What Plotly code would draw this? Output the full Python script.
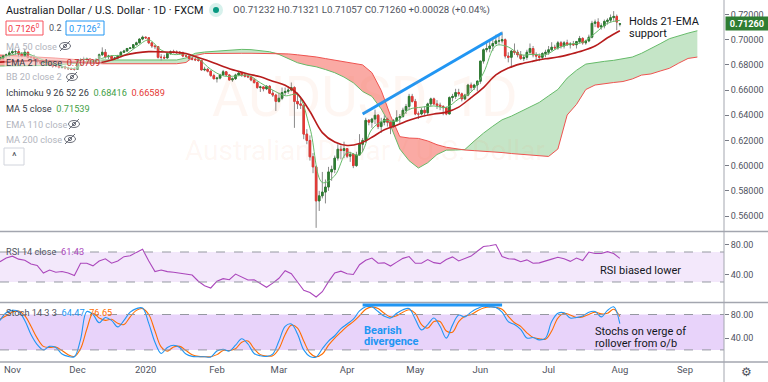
import plotly.graph_objects as go
import pandas as pd

# ---------------- data ----------------
bar_dates = pd.bdate_range("2019-10-28", "2020-08-03")          # 201 daily bars
axis_dates = pd.bdate_range("2019-10-28", periods=240)           # incl. future (cloud projection)

opens = [
    0.6850, 0.6857, 0.6870, 0.6880,
    0.6895, 0.6905, 0.6905, 0.6885, 0.6870, 0.6900, 0.6860, 0.6860, 0.6850, 0.6825, 0.6815,
    0.6820, 0.6830, 0.6800, 0.6790, 0.6790, 0.6780, 0.6785, 0.6775, 0.6770, 0.6765,
    0.6765, 0.6835, 0.6840, 0.6845, 0.6850, 0.6820, 0.6830, 0.6845, 0.6880, 0.6900, 0.6865,
    0.6870, 0.6850, 0.6855, 0.6870, 0.6900, 0.6910, 0.6930, 0.6935, 0.6960, 0.6975, 0.7005,
    0.7020, 0.7015, 0.6975, 0.6950, 0.6945, 0.6860, 0.6860, 0.6855, 0.6890, 0.6905, 0.6900,
    0.6900, 0.6895, 0.6870, 0.6870, 0.6850, 0.6845, 0.6840, 0.6835, 0.6760, 0.6765, 0.6750, 0.6715,
    0.6690, 0.6695, 0.6720, 0.6745, 0.6720, 0.6680, 0.6690, 0.6720, 0.6735, 0.6720,
    0.6710, 0.6705, 0.6680, 0.6660, 0.6620, 0.6625, 0.6610, 0.6630, 0.6575, 0.6560,
    0.6510, 0.6535, 0.6580, 0.6590, 0.6600, 0.6620, 0.6510, 0.6490, 0.6480, 0.6250, 0.6200,
    0.6070, 0.5990, 0.5720, 0.5760, 0.5790, 0.5830, 0.5950, 0.5970, 0.6060, 0.6130, 0.6120,
    0.6135, 0.6075, 0.6090, 0.6000, 0.6085, 0.6170, 0.6200, 0.6360, 0.6345, 0.6370, 0.6400,
    0.6310, 0.6345, 0.6370, 0.6345, 0.6310, 0.6355, 0.6380, 0.6390, 0.6440, 0.6470, 0.6550,
    0.6510, 0.6410, 0.6410, 0.6440, 0.6420, 0.6490, 0.6530, 0.6490, 0.6480, 0.6470, 0.6460,
    0.6410, 0.6540, 0.6550, 0.6580, 0.6570, 0.6530, 0.6560, 0.6640, 0.6620, 0.6640,
    0.6670, 0.6830, 0.6920, 0.6930, 0.6950, 0.6970, 0.6990, 0.6990, 0.7000, 0.6870, 0.6860,
    0.6910, 0.6900, 0.6880, 0.6850, 0.6860, 0.6900, 0.6930, 0.6880, 0.6870, 0.6860, 0.6890,
    0.6900, 0.6920, 0.6940, 0.6935, 0.6975, 0.6950, 0.6975, 0.6960, 0.6965, 0.6960, 0.6985,
    0.7010, 0.6975, 0.6990, 0.7020, 0.7130, 0.7140, 0.7100, 0.7110, 0.7145, 0.7155, 0.7175, 0.7185,
    0.71232,
]
highs = [
    0.6868, 0.6880, 0.6890, 0.6912,
    0.6930, 0.6920, 0.6925, 0.6900, 0.6929, 0.6905, 0.6875, 0.6880, 0.6860, 0.6835, 0.6830,
    0.6845, 0.6840, 0.6810, 0.6815, 0.6800, 0.6795, 0.6795, 0.6785, 0.6780, 0.6780,
    0.6845, 0.6855, 0.6865, 0.6860, 0.6855, 0.6840, 0.6850, 0.6890, 0.6939, 0.6925, 0.6880,
    0.6875, 0.6865, 0.6880, 0.6910, 0.6920, 0.6935, 0.6940, 0.6965, 0.6985, 0.7010, 0.7032,
    0.7025, 0.7020, 0.6980, 0.6960, 0.6950, 0.6885, 0.6880, 0.6900, 0.6915, 0.6920, 0.6915,
    0.6910, 0.6905, 0.6880, 0.6875, 0.6865, 0.6855, 0.6860, 0.6840, 0.6785, 0.6775, 0.6755, 0.6730,
    0.6705, 0.6730, 0.6760, 0.6750, 0.6725, 0.6700, 0.6730, 0.6750, 0.6740, 0.6730,
    0.6720, 0.6710, 0.6695, 0.6670, 0.6635, 0.6630, 0.6640, 0.6640, 0.6600, 0.6570,
    0.6580, 0.6620, 0.6620, 0.6630, 0.6660, 0.6630, 0.6580, 0.6550, 0.6490, 0.6290, 0.6240,
    0.6100, 0.6000, 0.5800, 0.5950, 0.5890, 0.5990, 0.6000, 0.6080, 0.6170, 0.6160, 0.6190,
    0.6140, 0.6110, 0.6100, 0.6110, 0.6250, 0.6220, 0.6380, 0.6370, 0.6380, 0.6445, 0.6410,
    0.6380, 0.6400, 0.6380, 0.6350, 0.6370, 0.6440, 0.6410, 0.6460, 0.6490, 0.6570, 0.6570,
    0.6530, 0.6430, 0.6460, 0.6470, 0.6500, 0.6540, 0.6540, 0.6520, 0.6500, 0.6480, 0.6470,
    0.6550, 0.6570, 0.6610, 0.6610, 0.6580, 0.6570, 0.6650, 0.6660, 0.6650, 0.6680,
    0.6830, 0.6930, 0.6980, 0.6990, 0.7010, 0.7040, 0.7030, 0.7064, 0.7010, 0.6900, 0.6920,
    0.6970, 0.6920, 0.6910, 0.6880, 0.6920, 0.6970, 0.6950, 0.6900, 0.6890, 0.6900, 0.6920,
    0.6950, 0.6980, 0.6960, 0.6990, 0.6990, 0.6990, 0.7000, 0.6980, 0.6990, 0.6990, 0.7030,
    0.7020, 0.7000, 0.7040, 0.7150, 0.7160, 0.7170, 0.7130, 0.7160, 0.7170, 0.7200, 0.7227, 0.7200,
    0.71321,
]
lows = [
    0.6838, 0.6845, 0.6852, 0.6862,
    0.6885, 0.6880, 0.6860, 0.6860, 0.6865, 0.6850, 0.6845, 0.6840, 0.6812, 0.6808, 0.6805,
    0.6815, 0.6790, 0.6775, 0.6780, 0.6770, 0.6770, 0.6765, 0.6760, 0.6760, 0.6755,
    0.6760, 0.6825, 0.6830, 0.6830, 0.6810, 0.6815, 0.6820, 0.6840, 0.6870, 0.6850, 0.6845,
    0.6840, 0.6840, 0.6845, 0.6860, 0.6895, 0.6905, 0.6925, 0.6930, 0.6955, 0.6970, 0.6995,
    0.7005, 0.6965, 0.6935, 0.6925, 0.6850, 0.6835, 0.6845, 0.6850, 0.6880, 0.6890, 0.6885,
    0.6880, 0.6860, 0.6860, 0.6840, 0.6835, 0.6830, 0.6825, 0.6755, 0.6750, 0.6740, 0.6705, 0.6685,
    0.6660, 0.6685, 0.6715, 0.6710, 0.6675, 0.6665, 0.6680, 0.6715, 0.6705, 0.6700,
    0.6695, 0.6670, 0.6650, 0.6610, 0.6585, 0.6590, 0.6600, 0.6570, 0.6545, 0.6434,
    0.6500, 0.6520, 0.6560, 0.6570, 0.6590, 0.6300, 0.6450, 0.6450, 0.6210, 0.6170, 0.6040,
    0.5940, 0.5506, 0.5640, 0.5740, 0.5700, 0.5800, 0.5880, 0.5940, 0.6040, 0.6050, 0.6060,
    0.6060, 0.6030, 0.5980, 0.5990, 0.6080, 0.6110, 0.6180, 0.6320, 0.6300, 0.6330, 0.6290,
    0.6260, 0.6320, 0.6310, 0.6250, 0.6300, 0.6350, 0.6340, 0.6380, 0.6410, 0.6440, 0.6500,
    0.6400, 0.6370, 0.6400, 0.6400, 0.6400, 0.6470, 0.6480, 0.6450, 0.6440, 0.6400, 0.6400,
    0.6410, 0.6510, 0.6530, 0.6550, 0.6510, 0.6520, 0.6550, 0.6590, 0.6600, 0.6590,
    0.6650, 0.6810, 0.6900, 0.6900, 0.6910, 0.6960, 0.6960, 0.6970, 0.6850, 0.6820, 0.6777,
    0.6880, 0.6860, 0.6840, 0.6830, 0.6840, 0.6880, 0.6860, 0.6830, 0.6830, 0.6840, 0.6860,
    0.6880, 0.6910, 0.6920, 0.6920, 0.6930, 0.6930, 0.6950, 0.6930, 0.6950, 0.6930, 0.6970,
    0.6960, 0.6960, 0.6980, 0.7010, 0.7100, 0.7090, 0.7080, 0.7090, 0.7120, 0.7140, 0.7150, 0.7075,
    0.71057,
]
closes = [
    0.6857, 0.6870, 0.6880, 0.6895,
    0.6905, 0.6905, 0.6885, 0.6870, 0.6900, 0.6860, 0.6860, 0.6850, 0.6825, 0.6815, 0.6820,
    0.6830, 0.6800, 0.6790, 0.6790, 0.6780, 0.6785, 0.6775, 0.6770, 0.6765, 0.6765,
    0.6835, 0.6840, 0.6845, 0.6850, 0.6820, 0.6830, 0.6845, 0.6880, 0.6900, 0.6865, 0.6870,
    0.6850, 0.6855, 0.6870, 0.6900, 0.6910, 0.6930, 0.6935, 0.6960, 0.6975, 0.7005, 0.7020,
    0.7015, 0.6975, 0.6950, 0.6945, 0.6860, 0.6860, 0.6855, 0.6890, 0.6905, 0.6900, 0.6900,
    0.6895, 0.6870, 0.6870, 0.6850, 0.6845, 0.6840, 0.6835, 0.6760, 0.6765, 0.6750, 0.6715, 0.6690,
    0.6695, 0.6720, 0.6745, 0.6720, 0.6680, 0.6690, 0.6720, 0.6735, 0.6720, 0.6710,
    0.6705, 0.6680, 0.6660, 0.6620, 0.6625, 0.6610, 0.6630, 0.6575, 0.6560, 0.6510,
    0.6535, 0.6580, 0.6590, 0.6600, 0.6620, 0.6510, 0.6490, 0.6480, 0.6250, 0.6200, 0.6070,
    0.5990, 0.5720, 0.5760, 0.5790, 0.5830, 0.5950, 0.5970, 0.6060, 0.6130, 0.6120, 0.6135,
    0.6075, 0.6090, 0.6000, 0.6085, 0.6170, 0.6200, 0.6360, 0.6345, 0.6370, 0.6400, 0.6310,
    0.6345, 0.6370, 0.6345, 0.6310, 0.6355, 0.6380, 0.6390, 0.6440, 0.6470, 0.6550, 0.6510,
    0.6410, 0.6410, 0.6440, 0.6420, 0.6490, 0.6530, 0.6490, 0.6480, 0.6470, 0.6460, 0.6410,
    0.6540, 0.6550, 0.6580, 0.6570, 0.6530, 0.6560, 0.6640, 0.6620, 0.6640, 0.6670,
    0.6830, 0.6920, 0.6930, 0.6950, 0.6970, 0.6990, 0.6990, 0.7000, 0.6870, 0.6860, 0.6910,
    0.6900, 0.6880, 0.6850, 0.6860, 0.6900, 0.6930, 0.6880, 0.6870, 0.6860, 0.6890, 0.6900,
    0.6920, 0.6940, 0.6935, 0.6975, 0.6950, 0.6975, 0.6960, 0.6965, 0.6960, 0.6985, 0.7010,
    0.6975, 0.6990, 0.7020, 0.7130, 0.7140, 0.7100, 0.7110, 0.7145, 0.7155, 0.7175, 0.7185, 0.7140,
    0.71260,
]

# EMA 21 and MA 5 every 4 bars
ema21 = [
    0.6822, 0.6828, 0.6832, 0.6833, 0.6830, 0.6826, 0.6820, 0.6815, 0.6817, 0.6838,
    0.6875, 0.6895, 0.6905, 0.6903, 0.6900, 0.6890, 0.6858, 0.6825, 0.6788, 0.6755,
    0.6728, 0.6705, 0.6670, 0.6638, 0.6570, 0.6430, 0.6262, 0.6187, 0.6160, 0.6175,
    0.6225, 0.6285, 0.6320, 0.6360, 0.6390, 0.6410, 0.6425, 0.6465, 0.6540, 0.6620,
    0.6720, 0.6775, 0.6808, 0.6830, 0.6848, 0.6862, 0.6885, 0.6912, 0.6950, 0.7015,
    0.7071,
]
ma5 = [
    0.6850, 0.6881, 0.6893, 0.6859, 0.6818, 0.6789, 0.6772, 0.6827, 0.6845, 0.6873,
    0.6877, 0.6942, 0.6998, 0.6918, 0.6882, 0.6887, 0.6848, 0.6765, 0.6713, 0.6711,
    0.6718, 0.6658, 0.6600, 0.6555, 0.6562, 0.6298, 0.5866, 0.5920, 0.6104, 0.6084,
    0.6289, 0.6359, 0.6352, 0.6446, 0.6464, 0.6474, 0.6462, 0.6530, 0.6584, 0.6736,
    0.6952, 0.6942, 0.6880, 0.6884, 0.6880, 0.6934, 0.6965, 0.6979, 0.7051, 0.7130,
    0.7154,
]
line_step = 4

# Ichimoku leading spans (plotted 26 bars ahead), read every 3 bars
span_a = [
    0.6791, 0.6791, 0.6791, 0.6791, 0.6791, 0.6795, 0.6800, 0.6805, 0.6811, 0.6821,
    0.6831, 0.6839, 0.6839, 0.6839, 0.6839, 0.6839, 0.6839, 0.6839, 0.6839, 0.6839,
    0.6855, 0.6892, 0.6902, 0.6907, 0.6910, 0.6916, 0.6923, 0.6921, 0.6915, 0.6904,
    0.6883, 0.6847, 0.6817, 0.6798, 0.6785, 0.6763, 0.6738, 0.6703, 0.6658, 0.6589,
    0.6550, 0.6450, 0.6318, 0.6132, 0.6039, 0.5981, 0.6023, 0.6088, 0.6123, 0.6124,
    0.6128, 0.6195, 0.6258, 0.6313, 0.6364, 0.6393, 0.6430, 0.6469, 0.6502, 0.6554,
    0.6605, 0.6695, 0.6757, 0.6806, 0.6820, 0.6828, 0.6836, 0.6849, 0.6862, 0.6892,
    0.6928, 0.6968, 0.7008, 0.7032, 0.7052, 0.7071,
]
span_b = [
    0.6878, 0.6875, 0.6871, 0.6867, 0.6864, 0.6859, 0.6854, 0.6848, 0.6843, 0.6827,
    0.6811, 0.6809, 0.6809, 0.6809, 0.6809, 0.6809, 0.6809, 0.6809, 0.6809, 0.6809,
    0.6819, 0.6874, 0.6890, 0.6892, 0.6892, 0.6892, 0.6892, 0.6892, 0.6892, 0.6892,
    0.6892, 0.6887, 0.6880, 0.6873, 0.6863, 0.6850, 0.6837, 0.6829, 0.6817, 0.6800,
    0.6738, 0.6597, 0.6397, 0.6230, 0.6219, 0.6216, 0.6196, 0.6166, 0.6146, 0.6134,
    0.6124, 0.6119, 0.6115, 0.6111, 0.6104, 0.6096, 0.6089, 0.6083, 0.6077, 0.6073,
    0.6132, 0.6402, 0.6486, 0.6604, 0.6640, 0.6652, 0.6660, 0.6668, 0.6688, 0.6719,
    0.6728, 0.6751, 0.6773, 0.6814, 0.6851, 0.6862,
]
span_step = 3

# RSI 14 and Stoch 14 3 3, read every 2 bars
rsi = [
    57, 62, 64.5, 60.5, 59, 54, 52, 42, 46, 43,
    44, 42, 38.5, 55, 55, 51.5, 58, 61, 55, 58,
    63.8, 65, 69.5, 73.6, 58, 43.8, 46, 43.8, 43, 42,
    41, 39.3, 31, 25, 22, 31, 34.5, 33, 40.5, 37,
    32.7, 33, 28.2, 23, 28.5, 35, 45, 41, 30, 19,
    16, 10, 17, 30.5, 42, 44.5, 41, 40, 53, 59,
    62, 55, 55.5, 51.3, 56.5, 61.5, 64, 55, 55, 60,
    55.8, 54.5, 60, 63.5, 58, 61, 64.5, 71, 77.3, 78.3,
    80, 64, 61, 60.5, 57, 59.5, 55, 55.5, 57.5, 60.5,
    63, 61, 57.5, 62, 58.5, 70, 68, 68, 70.5, 68,
    61.43,
]
stoch_k = [
    70, 83, 87, 85, 70, 46, 29, 20, 26, 24,
    13, 9, 8.5, 38, 85, 80, 66, 75, 70, 59,
    70, 84, 90, 91, 65, 33, 14, 24, 28, 24,
    13, 9, 8.5, 8.5, 8, 18, 21, 18, 28, 39,
    30, 14, 10, 9, 13, 35, 60, 64, 47, 20,
    9, 8, 22, 35, 44, 56, 64, 72, 86, 93,
    93, 85, 77, 74, 82, 88, 90, 72, 54, 63,
    74, 60, 40, 62, 79, 76, 84, 90, 94, 93,
    92, 84, 68, 63, 55, 40, 41, 37, 40, 68,
    82, 83, 74, 75, 77.5, 84, 85, 76, 87, 93,
    64.47,
]
stoch_d = [
    72, 78, 84, 86, 78, 60, 40, 26, 24, 25,
    19, 12, 9, 22, 55, 82, 74, 70, 72, 65,
    63, 76, 87, 90, 80, 52, 25, 18, 25, 26,
    19, 12, 9, 8.5, 8.5, 12, 19, 19, 22, 33,
    35, 22, 12, 9.5, 10, 22, 46, 62, 57, 35,
    15, 8.5, 13, 28, 40, 50, 60, 68, 78, 89,
    93, 90, 82, 76, 78, 84, 88, 82, 63, 57,
    68, 68, 52, 50, 68, 77, 80, 86, 91, 93,
    92, 89, 77, 66, 60, 49, 41, 39, 38, 52,
    74, 82, 79, 75, 76, 80, 84, 81, 82, 89,
    76.65,
]
osc_step = 2

month_starts = ["2019-11-01", "2019-12-02", "2020-01-01", "2020-02-03", "2020-03-02", "2020-04-01",
                "2020-05-01", "2020-06-01", "2020-07-01", "2020-08-03", "2020-09-01"]
month_labels = ["Nov", "Dec", "2020", "Feb", "Mar", "Apr", "May", "Jun", "Jul", "Aug", "Sep"]
price_ticks = [0.56, 0.58, 0.60, 0.62, 0.64, 0.66, 0.68, 0.70, 0.72]
osc_ticks = [40, 80]

trend_price = (("2020-04-08", 0.6410), ("2020-06-10", 0.7053))
trend_stoch = (("2020-04-08", 96), ("2020-06-10", 96))
last_price = 0.71260

assert len(opens) == len(highs) == len(lows) == len(closes) == len(bar_dates)

# ---------------- helpers ----------------
date_pos = {d.strftime("%Y-%m-%d"): i for i, d in enumerate(axis_dates)}
bars = list(range(len(closes)))
line_x = list(range(0, len(ema21) * line_step, line_step))
span_x = list(range(0, len(span_a) * span_step, span_step))
osc_x = list(range(0, len(rsi) * osc_step, osc_step))
cloud_top = [max(a, b) for a, b in zip(span_a, span_b)]
body_hi = [max(o, c) for o, c in zip(opens, closes)]
body_lo = [min(o, c) for o, c in zip(opens, closes)]

W_PLOT, H_PLOT = 724.0, 362.0
def px(x):
    return x / W_PLOT
def py(y):
    return (H_PLOT - y) / H_PLOT

FONT = "Roboto"
DARK = "#363a45"
FADED = "#b2b5be"
GREEN_UP = "#2e7d32"
RED_DN = "#e53935"

fig = go.Figure()

# Ichimoku cloud (base price axis)
fig.add_trace(go.Scatter(x=span_x, y=span_b, mode="lines", line=dict(width=0), yaxis="y", hoverinfo="skip"))
fig.add_trace(go.Scatter(x=span_x, y=cloud_top, mode="lines", line=dict(width=0), fill="tonexty",
                         fillcolor="rgba(76,175,80,0.32)", yaxis="y", hoverinfo="skip"))
fig.add_trace(go.Scatter(x=span_x, y=span_a, mode="lines", line=dict(width=0), yaxis="y", hoverinfo="skip"))
fig.add_trace(go.Scatter(x=span_x, y=cloud_top, mode="lines", line=dict(width=0), fill="tonexty",
                         fillcolor="rgba(244,67,54,0.45)", yaxis="y", hoverinfo="skip"))
fig.add_trace(go.Scatter(x=span_x, y=span_a, mode="lines", line=dict(color="#66bb6a", width=1),
                         yaxis="y", hoverinfo="skip"))
fig.add_trace(go.Scatter(x=span_x, y=span_b, mode="lines", line=dict(color="#ef5350", width=1),
                         yaxis="y", hoverinfo="skip"))

# Candles (overlay axis so they sit above the cloud)
fig.add_trace(go.Candlestick(x=bars, open=opens, high=highs, low=lows, close=closes, yaxis="y4",
                             increasing=dict(line=dict(color="#8a8a8a", width=1), fillcolor="#8a8a8a"),
                             decreasing=dict(line=dict(color="#8a8a8a", width=1), fillcolor="#8a8a8a"),
                             whiskerwidth=0, hoverinfo="skip", showlegend=False))
fig.add_trace(go.Candlestick(x=bars, open=opens, high=body_hi, low=body_lo, close=closes, yaxis="y4",
                             increasing=dict(line=dict(color=GREEN_UP, width=1), fillcolor=GREEN_UP),
                             decreasing=dict(line=dict(color=RED_DN, width=1), fillcolor=RED_DN),
                             whiskerwidth=0, hoverinfo="skip", showlegend=False))
fig.add_trace(go.Scatter(x=line_x, y=ma5, mode="lines", line=dict(color="#66bb6a", width=1, shape="spline"),
                         yaxis="y4", hoverinfo="skip"))
fig.add_trace(go.Scatter(x=line_x, y=ema21, mode="lines", line=dict(color="#b71c1c", width=1.6, shape="spline"),
                         yaxis="y4", hoverinfo="skip"))

# RSI
fig.add_trace(go.Scatter(x=osc_x, y=rsi, mode="lines", line=dict(color="#ab47bc", width=1.1),
                         yaxis="y2", hoverinfo="skip"))
# Stoch
fig.add_trace(go.Scatter(x=osc_x, y=stoch_d, mode="lines", line=dict(color="#ff6d00", width=1.1, shape="spline"),
                         yaxis="y3", hoverinfo="skip"))
fig.add_trace(go.Scatter(x=osc_x, y=stoch_k, mode="lines", line=dict(color="#2196f3", width=1.1, shape="spline"),
                         yaxis="y3", hoverinfo="skip"))

price_range = [0.72 - (231 - 14.5) * 0.000794, 0.72 + 14.5 * 0.000794]

shapes = []
# oscillator bands
shapes.append(dict(type="rect", xref="x domain", yref="y2", x0=0, x1=1, y0=30, y1=70,
                   fillcolor="#f3e8fb", line=dict(width=0), layer="below"))
shapes.append(dict(type="rect", xref="x domain", yref="y3", x0=0, x1=1, y0=20, y1=80,
                   fillcolor="#e8d3fa", line=dict(width=0), layer="below"))
for yr, v in (("y2", 70), ("y2", 30), ("y3", 80), ("y3", 20)):
    shapes.append(dict(type="line", xref="x domain", yref=yr, x0=0, x1=1, y0=v, y1=v,
                       line=dict(color="#9598a1", width=1, dash="dash")))
# pane separators and price-scale border
for yy in (231.5, 302.5, 362):
    shapes.append(dict(type="line", xref="paper", yref="paper", x0=0, x1=768 / W_PLOT, y0=py(yy), y1=py(yy),
                       line=dict(color="#a3a6af", width=1.5)))
shapes.append(dict(type="line", xref="paper", yref="paper", x0=1, x1=1, y0=py(382), y1=1,
                   line=dict(color="#a3a6af", width=1)))
# trend lines
(ds, vs), (de, ve) = trend_price
shapes.append(dict(type="line", xref="x", yref="y", x0=date_pos[ds], y0=vs, x1=date_pos[de], y1=ve,
                   line=dict(color="#2196f3", width=3)))
(ds, vs), (de, ve) = trend_stoch
shapes.append(dict(type="line", xref="x", yref="y3", x0=date_pos[ds], y0=vs, x1=date_pos[de], y1=ve,
                   line=dict(color="#2196f3", width=3)))

# eye-slash icons for hidden studies
def eye(cx, cy):
    out = [dict(type="circle", xref="paper", yref="paper", x0=px(cx - 5.5), x1=px(cx + 5.5),
                y0=py(cy + 3.5), y1=py(cy - 3.5), line=dict(color="#6a6d78", width=1)),
           dict(type="circle", xref="paper", yref="paper", x0=px(cx - 1.6), x1=px(cx + 1.6),
                y0=py(cy + 1.6), y1=py(cy - 1.6), line=dict(color="#6a6d78", width=1)),
           dict(type="line", xref="paper", yref="paper", x0=px(cx - 5), x1=px(cx + 5),
                y0=py(cy + 5), y1=py(cy - 5), line=dict(color="#6a6d78", width=1))]
    return out
for cx, cy in ((65, 46), (72, 77), (74, 124), (70, 139)):
    shapes += eye(cx, cy)

# header dot
shapes.append(dict(type="circle", xref="paper", yref="paper", x0=px(209), x1=px(223), y0=py(17), y1=py(3),
                   fillcolor="#d7f1ec", line=dict(width=0)))
shapes.append(dict(type="circle", xref="paper", yref="paper", x0=px(213), x1=px(219), y0=py(13), y1=py(7),
                   fillcolor="#089981", line=dict(width=0)))
# value boxes
shapes.append(dict(type="rect", xref="paper", yref="paper", x0=px(6), x1=px(43), y0=py(35), y1=py(21),
                   line=dict(color="#f7525f", width=1), fillcolor="white"))
shapes.append(dict(type="rect", xref="paper", yref="paper", x0=px(66), x1=px(104), y0=py(35), y1=py(21),
                   line=dict(color="#2196f3", width=1), fillcolor="white"))
shapes.append(dict(type="rect", xref="paper", yref="paper", x0=px(4), x1=px(24), y0=py(165), y1=py(148),
                   line=dict(color="#d1d4dc", width=1), fillcolor="white"))

ann = []
def text(x, y, s, size=9.2, color=DARK, anchor="left", bg=None, **kw):
    d = dict(xref="paper", yref="paper", x=px(x), y=py(y), text=s, showarrow=False, xanchor=anchor,
             yanchor="middle", font=dict(family=FONT, size=size, color=color))
    if bg:
        d["bgcolor"] = bg
    d.update(kw)
    ann.append(d)

# watermark
text(365, 97, "AUDUSD, 1D", size=56, color="rgba(247,135,90,0.08)", anchor="center")
text(365, 150, "Australian Dollar / U.S. Dollar", size=28, color="rgba(247,135,90,0.08)", anchor="center")

text(4, 10, "Australian Dollar / U.S. Dollar · 1D · FXCM", size=10.8, color="#131722")
text(231, 10, "O0.71232 H0.71321 L0.71057 C0.71260 +0.00028 (+0.04%)", size=9.7, color="#50535e")
text(24.5, 28, "0.7126<sup>0</sup>", size=9, color="#f23645", anchor="center")
text(55, 28, "0.2", size=9, color="#50535e", anchor="center")
text(85, 28, "0.7126<sup>2</sup>", size=9, color="#2196f3", anchor="center")

text(4, 46, "MA 50 close", color=FADED)
text(4, 62, "EMA 21 close  <span style='color:#c62828'>0.70709</span>", bg="rgba(255,255,255,0.45)")
text(4, 77, "BB 20 close 2", color=FADED)
text(4, 93, "Ichimoku 9 26 52 26  <span style='color:#43a047'>0.68416</span>  "
            "<span style='color:#e53935'>0.66589</span>")
text(4, 108, "MA 5 close  <span style='color:#43a047'>0.71539</span>")
text(4, 124, "EMA 110 close", color=FADED)
text(4, 139, "MA 200 close", color=FADED)
text(14, 156, "^", size=11, color="#50535e", anchor="center")

text(4, 251, "RSI 14 close  <span style='color:#ab47bc'>61.43</span>", color="#50535e")
text(4, 312, "Stoch 14 3 3  <span style='color:#2196f3'>64.47</span>  <span style='color:#ff6d00'>76.65</span>",
     color="#50535e")

# commentary
text(627, 21, "Holds 21-EMA", size=11, color="#131722")
text(627, 33, "support", size=11, color="#131722")
text(598, 271, "RSI biased lower", size=11, color="#131722")
text(593, 331, "Stochs on verge of", size=11, color="#131722")
text(593, 343, "rollover from o/b", size=11, color="#131722")
text(362, 330, "<b>Bearish</b>", size=11, color="#2196f3")
text(362, 341, "<b>divergence</b>", size=11, color="#2196f3")

# gear icon
text(746, 372, "⚙", size=12, color="#50535e", anchor="center")

# last price label
ann.append(dict(xref="paper", yref="y", x=1, y=last_price, xanchor="left", yanchor="middle", showarrow=False,
                text="<b>0.71260</b>", bgcolor="#2e7d32", width=40, borderpad=1, xshift=1,
                font=dict(family=FONT, size=9.2, color="white")))

tickfont = dict(family=FONT, size=9, color="#50535e")
fig.update_layout(
    width=768, height=382,
    margin=dict(l=0, r=44, t=0, b=20),
    paper_bgcolor="white", plot_bgcolor="white",
    showlegend=False,
    xaxis=dict(domain=[0, 1], range=[0, 233.6], anchor="y3", showgrid=False, zeroline=False,
               tickmode="array", tickvals=[date_pos[d] for d in month_starts], ticktext=month_labels,
               tickfont=dict(family=FONT, size=9.5, color="#50535e"), ticks="", showline=False,
               rangeslider=dict(visible=False)),
    yaxis=dict(domain=[py(231), 1], range=price_range, side="right", anchor="x", showgrid=False,
               zeroline=False, tickmode="array", tickvals=price_ticks,
               ticktext=["%.5f" % v for v in price_ticks], tickfont=tickfont,
               ticks="outside", ticklen=4, tickcolor="#787b86"),
    yaxis4=dict(overlaying="y", range=price_range, side="right", anchor="x", showgrid=False,
                zeroline=False, showticklabels=False),
    yaxis2=dict(domain=[py(302), py(232)], range=[3.3, 96.7], side="right", anchor="x", showgrid=False,
                zeroline=False, tickmode="array", tickvals=osc_ticks,
                ticktext=["%.2f" % v for v in osc_ticks], tickfont=tickfont,
                ticks="outside", ticklen=4, tickcolor="#787b86"),
    yaxis3=dict(domain=[0, py(303)], range=[-0.5, 99.5], side="right", anchor="x", showgrid=False,
                zeroline=False, tickmode="array", tickvals=osc_ticks,
                ticktext=["%.2f" % v for v in osc_ticks], tickfont=tickfont,
                ticks="outside", ticklen=4, tickcolor="#787b86"),
    shapes=shapes,
    annotations=ann,
)

fig.write_html("out.html", config={"displayModeBar": False},
               post_script="document.body.style.margin='0px';document.body.style.padding='0px';")
